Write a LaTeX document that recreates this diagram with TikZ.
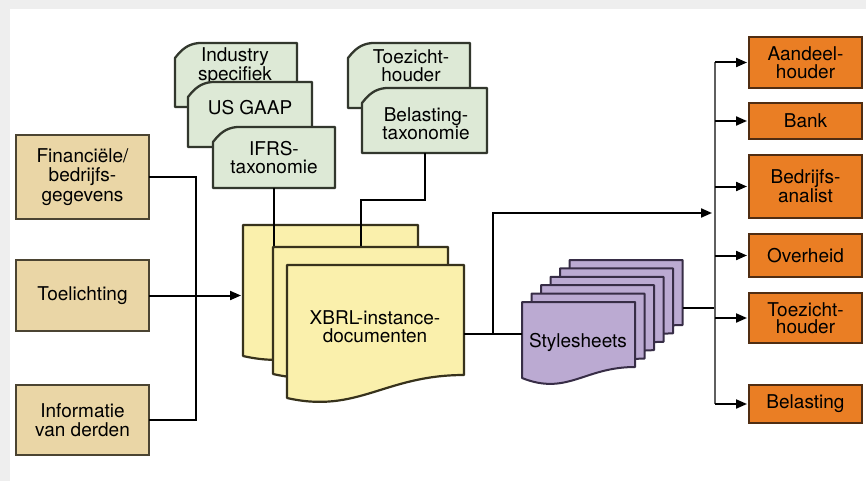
\documentclass[tikz,border=0pt]{standalone}
\usepackage{fontspec}
\setmainfont{TeX Gyre Heros}
\usetikzlibrary{arrows.meta}

\definecolor{bgframe}{RGB}{238,238,238}
\definecolor{srcfill}{RGB}{234,214,166}
\definecolor{srcline}{RGB}{75,68,50}
\definecolor{taxfill}{RGB}{221,233,214}
\definecolor{taxline}{RGB}{50,55,45}
\definecolor{pagefill}{RGB}{250,240,172}
\definecolor{pageline}{RGB}{55,50,28}
\definecolor{sheetfill}{RGB}{187,170,210}
\definecolor{sheetline}{RGB}{55,45,70}
\definecolor{userfill}{RGB}{234,126,36}
\definecolor{userline}{RGB}{80,45,18}
\definecolor{busline}{RGB}{95,95,95}

% taxonomy card with a cut top-left corner, plus an invisible frame node
\newcommand\taxcard[5]{% #1 name, #2 left, #3 top, #4 right, #5 bottom
  \filldraw[taxo] ({#2},{(#3)+15}) .. controls ({(#2)+7},{(#3)+6}) and ({(#2)+13},{(#3)+1}) .. ({(#2)+24},{#3})
    -- ({#4},{#3}) -- ({#4},{#5}) -- ({#2},{#5}) -- cycle;
  \node[frame, minimum width={((#4)-(#2))*1pt}, minimum height={((#5)-(#3))*1pt}]
    (#1) at ({((#2)+(#4))/2},{((#3)+(#5))/2}) {};}

% document page with a wavy bottom edge, plus an invisible frame node
\newcommand\docpage[8]{% #1 name, #2 style, #3 left, #4 top, #5 right, #6 bottom-left, #7 rise at right, #8 dip
  \filldraw[#2] ({#3},{#4}) -- ({#5},{#4}) -- ({#5},{(#6)-(#7)})
    .. controls ({(#5)-0.45*((#5)-(#3))},{(#6)-(#7)}) and ({(#3)+0.4*((#5)-(#3))},{(#6)+(#8)}) .. ({#3},{#6}) -- cycle;
  \node[frame, minimum width={((#5)-(#3))*1pt}, minimum height={((#6)-(#4))*1pt}]
    (#1) at ({((#3)+(#5))/2},{((#4)+(#6))/2}) {};}

\begin{document}
\begin{tikzpicture}[x=1pt,y=-1pt,
  every node/.style={font=\fontsize{19}{18}\selectfont, align=center, inner sep=0pt, outer sep=0pt},
  frame/.style={rectangle, draw=none, fill=none, inner sep=0pt, outer sep=0pt},
  conn/.style={line width=2pt, black},
  arrow/.style={conn, -{Triangle[length=11pt,width=9pt]}},
  srcbox/.style={rectangle, draw=srcline, fill=srcfill, line width=2.6pt, minimum width=133pt,
    font=\fontsize{19}{19.5}\selectfont},
  userbox/.style={rectangle, draw=userline, fill=userfill, line width=2.4pt, minimum width=113pt,
    font=\fontsize{19}{17.5}\selectfont},
  taxo/.style={fill=taxfill, draw=taxline, line width=2.3pt, line join=round},
  page/.style={fill=pagefill, draw=pageline, line width=2.2pt, line join=round},
  sheet/.style={fill=sheetfill, draw=sheetline, line width=2pt, line join=round},
  bus/.style={line width=2.8pt, busline}
]
\useasboundingbox (0,0) rectangle (866,481);
\fill[bgframe] (0,0) rectangle (866,481);
\fill[white] (10,9) rectangle (866,481);

% source data
\node[srcbox, minimum height=84pt] (fin) at (82.5,177) {Financiële/\\bedrijfs-\\gegevens};
\node[srcbox, minimum height=71pt] (toel) at (82.5,295.5) {Toelichting};
\node[srcbox, minimum height=70pt] (info) at (82.5,420) {Informatie\\van derden};

% taxonomies
\taxcard{industry}{175}{43}{297}{107}
\node (industry-t) at (235,66) {Industry\\specifiek};
\taxcard{usgaap}{188}{82}{312}{147}
\node (usgaap-t) at (250,108) {US GAAP};
\taxcard{ifrs}{213}{127}{335}{188}
\node (ifrs-t) at (274,158) {IFRS-\\taxonomie};
\taxcard{toezt}{348}{43}{470}{108}
\node (toezt-t) at (411,66) {Toezicht-\\houder};
\taxcard{belt}{362}{88}{487}{153}
\node (belt-t) at (426,124) {Belasting-\\taxonomie};

% instance documents
\docpage{xbrl1}{page}{243}{225}{418}{356}{23}{16}
\draw[conn] (ifrs.south) -- (ifrs.south |- 0,247);
\draw[conn] (belt.south) -- ++(0,47) -| (361,247);
\docpage{xbrl2}{page}{273}{247}{448}{374}{23}{16}
\docpage{xbrl3}{page}{287}{265}{464}{398}{23}{16}
\node (xbrl) at (375,327) {XBRL-instance-\\documenten};

% stylesheets
\foreach \i in {5,4,3,2,1,0}{
  \docpage{sty\i}{sheet}{522+9.5*\i}{302-8.4*\i}{635+9.5*\i}{378-8.4*\i}{11}{18}
}
\node (sty) at (578,342) {Stylesheets};

% consumers
\node[userbox, minimum height=51pt] (aandeel) at (805.5,62.5) {Aandeel-\\houder};
\node[userbox, minimum height=36pt] (bank) at (805.5,121) {Bank};
\node[userbox, minimum height=63pt] (analist) at (805.5,186.5) {Bedrijfs-\\analist};
\node[userbox, minimum height=43pt] (overheid) at (805.5,255.5) {Overheid};
\node[userbox, minimum height=50pt] (toezicht) at (805.5,318) {Toezicht-\\houder};
\node[userbox, minimum height=38pt] (belast) at (805.5,404) {Belasting};

% connectors
\draw[conn] (fin.east) -- ++(47,0) |- (info.east);
\draw[arrow, shorten >=2pt] (toel.east) -- (toel.east -| xbrl1.west);

\coordinate (split) at (493,334);
\coordinate (busx) at (715,0);
\draw[conn] (xbrl3.east |- split) -- (split) -- (split -| sty0.west);
\draw[arrow, shorten >=3pt] (split) |- (busx |- 0,213);
\draw[conn] ([yshift=-10pt]sty5.east) -- ([yshift=-10pt]sty5.east -| busx);

\draw[bus] (busx |- aandeel.west) -- (busx |- belast.west);
\foreach \n in {aandeel,bank,analist,overheid,toezicht,belast}
  \draw[arrow, shorten >=2pt] (busx |- \n.west) -- (\n.west);
\end{tikzpicture}
\end{document}
